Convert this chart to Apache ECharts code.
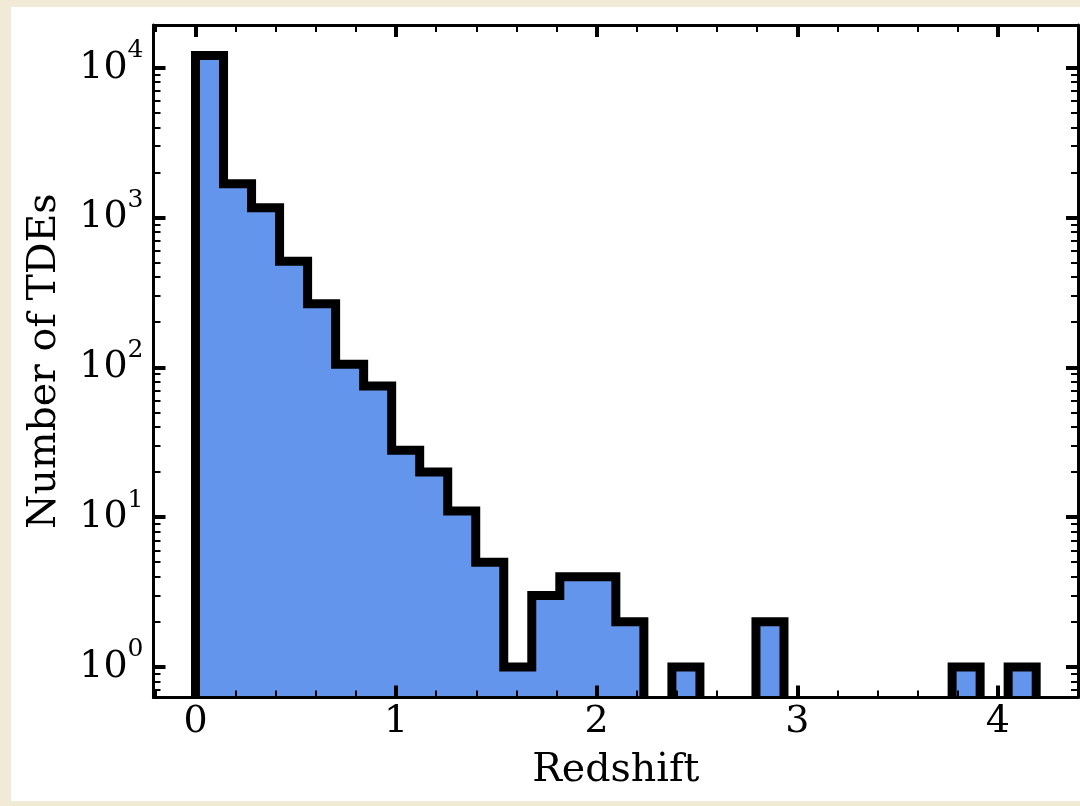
<!DOCTYPE html>
<html>
<head>
<meta charset="utf-8">
<script src="https://cdn.jsdelivr.net/npm/echarts@6/dist/echarts.min.js"></script>
<style>
html,body{margin:0;padding:0;background:#f0ead6;}
#chart{width:1080px;height:806px;}
</style>
</head>
<body>
<div id="chart"></div>
<script>
// ---- data ----
const binEdges = [0, 0.1397, 0.2794, 0.4191, 0.5588, 0.6985, 0.8382, 0.9779, 1.1176, 1.2573,
  1.397, 1.5367, 1.6764, 1.8161, 1.9558, 2.0955, 2.2352, 2.3749, 2.5146, 2.6543,
  2.794, 2.9337, 3.0734, 3.2131, 3.3528, 3.4925, 3.6322, 3.7719, 3.9116, 4.0513, 4.191];
const counts = [12050, 1683, 1162, 511, 266, 105, 75, 28, 20, 11,
  5, 1, 3, 4, 4, 2, 0, 1, 0, 0,
  2, 0, 0, 0, 0, 0, 0, 1, 0, 1];
const xMajorTicks = [0, 1, 2, 3, 4];
const xMinorTicks = [-0.2, 0.2, 0.4, 0.6, 0.8, 1.2, 1.4, 1.6, 1.8, 2.2, 2.4, 2.6, 2.8, 3.2, 3.4, 3.6, 3.8, 4.2];
const yMajorTicks = [1, 10, 100, 1000, 10000];
const yMinorTicks = [0.7, 0.8, 0.9, 2, 3, 4, 5, 6, 7, 8, 9, 20, 30, 40, 50, 60, 70, 80, 90,
  200, 300, 400, 500, 600, 700, 800, 900, 2000, 3000, 4000, 5000, 6000, 7000, 8000, 9000];
const xTitle = 'Redshift';
const yTitle = 'Number of TDEs';

// ---- axis ranges ----
const xMin = -0.2095, xMax = 4.3995;
const yMin = Math.pow(10, -0.204), yMax = Math.pow(10, 4.285);

const FONT = 'DejaVu Serif';
const fillColor = '#6495ED';

// build runs of non-empty bins as step outlines
const runs = [];
let cur = null;
for (let i = 0; i < counts.length; i++) {
  if (counts[i] > 0) {
    if (!cur) { cur = [[binEdges[i], yMin]]; }
    cur.push([binEdges[i], counts[i]]);
    cur.push([binEdges[i + 1], counts[i]]);
  } else if (cur) {
    cur.push([binEdges[i], yMin]);
    runs.push(cur); cur = null;
  }
}
if (cur) { cur.push([binEdges[counts.length], yMin]); runs.push(cur); }

const series = runs.map(pts => ({
  type: 'line',
  data: pts,
  xAxisIndex: 0, yAxisIndex: 0,
  showSymbol: false, symbol: 'none',
  animation: false, silent: true,
  z: 2,
  lineStyle: { color: '#000', width: 9, join: 'miter', cap: 'butt' },
  areaStyle: { color: fillColor, opacity: 1, origin: 'start' }
}));

function xAxisDef(position, major, withLabel) {
  return {
    type: 'value', position: position, min: xMin, max: xMax, z: 10,
    axisLine: { show: major, onZero: false, lineStyle: { color: '#000', width: 3 } },
    axisTick: { show: true, inside: true, length: major ? 12 : 7,
      lineStyle: { color: '#000', width: major ? 4 : 2 },
      customValues: major ? xMajorTicks : xMinorTicks },
    axisLabel: { show: withLabel, customValues: xMajorTicks, margin: 6,
      fontFamily: FONT, fontSize: 38, color: '#000',
      formatter: v => String(v) },
    splitLine: { show: false },
    name: withLabel ? xTitle : '', nameLocation: 'middle', nameGap: 53,
    nameTextStyle: { fontFamily: FONT, fontSize: 39.5, color: '#000' }
  };
}
function yAxisDef(position, major, withLabel) {
  return {
    type: 'log', logBase: 10, position: position, min: yMin, max: yMax, z: 10,
    axisLine: { show: major, onZero: false, lineStyle: { color: '#000', width: 3 } },
    axisTick: { show: true, inside: true, length: major ? 12 : 7,
      lineStyle: { color: '#000', width: major ? 4 : 2 },
      customValues: major ? yMajorTicks : yMinorTicks },
    axisLabel: { show: withLabel, customValues: yMajorTicks, margin: 10,
      formatter: v => '{b|10}{s|' + Math.round(Math.log10(v)) + '}',
      rich: {
        b: { fontFamily: FONT, fontSize: 38, color: '#000' },
        s: { fontFamily: FONT, fontSize: 25, color: '#000', padding: [0, 0, 34, 0] }
      } },
    splitLine: { show: false },
    minorTick: { show: false },
    name: withLabel ? yTitle : '', nameLocation: 'middle', nameGap: 89, nameRotate: 90,
    nameTextStyle: { fontFamily: FONT, fontSize: 39.5, color: '#000' }
  };
}

const chart = echarts.init(document.getElementById('chart'), null, { renderer: 'canvas' });
chart.setOption({
  animation: false,
  backgroundColor: '#f0ead6',
  graphic: [{ type: 'rect', z: -100, silent: true,
    shape: { x: 11, y: 7, width: 1069, height: 794 }, style: { fill: '#ffffff' } }],
  grid: { left: 153.5, right: 2, top: 25, bottom: 108.5, containLabel: false, outerBoundsMode: 'none' },
  xAxis: [xAxisDef('bottom', true, true), xAxisDef('bottom', false, false),
          xAxisDef('top', true, false), xAxisDef('top', false, false)],
  yAxis: [yAxisDef('left', true, true), yAxisDef('left', false, false),
          yAxisDef('right', true, false), yAxisDef('right', false, false)],
  series: series
});
</script>
</body>
</html>
